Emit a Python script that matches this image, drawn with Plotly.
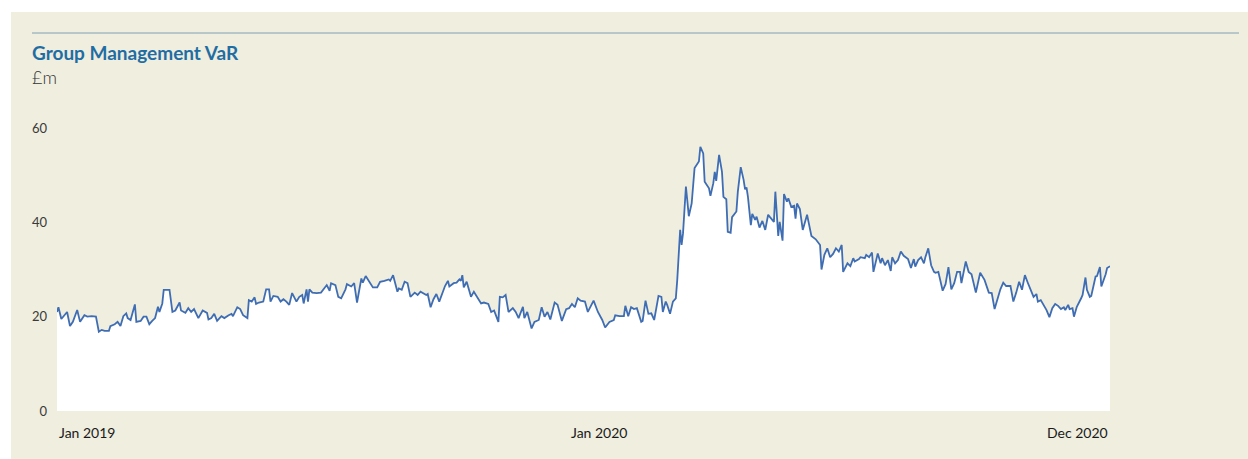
import pandas as pd
import plotly.graph_objects as go

# Observation day (days since 1 Jan 2019) and Group Management VaR in £m
obs_day = [
    0, 1, 3, 5, 7, 9, 11, 14, 16, 19, 21, 24, 27, 29, 31, 33, 36, 37, 40, 42,
    44, 46, 48, 49, 51, 54, 55, 58, 60, 62, 64, 66, 68, 70, 71, 73, 74, 78, 80, 82,
    85, 86, 89, 91, 93, 95, 98, 101, 104, 105, 107, 109, 111, 114, 116, 119, 121, 122, 125, 127,
    129, 132, 133, 135, 137, 138, 140, 143, 145, 147, 148, 150, 153, 155, 157, 159, 161, 163, 166, 168,
    170, 171, 173, 174, 175, 177, 180, 183, 185, 187, 189, 190, 193, 195, 197, 200, 201, 204, 206, 208,
    211, 212, 214, 216, 219, 222, 224, 227, 230, 231, 233, 236, 237, 239, 241, 243, 245, 248, 250, 252,
    254, 256, 257, 259, 261, 263, 265, 267, 269, 271, 272, 275, 277, 279, 280, 281, 282, 284, 286, 287,
    289, 292, 294, 296, 299, 301, 303, 306, 307, 309, 311, 313, 316, 318, 320, 323, 324, 326, 329, 331,
    334, 336, 338, 340, 342, 345, 347, 350, 353, 355, 357, 359, 361, 363, 366, 368, 372, 375, 378, 380,
    383, 386, 387, 390, 393, 394, 396, 398, 400, 402, 405, 406, 408, 410, 412, 414, 417, 419, 420, 422,
    423, 425, 427, 429, 430, 432, 433, 434, 436, 438, 440, 442, 445, 446, 448, 449, 452, 453, 455, 456,
    457, 459, 461, 462, 464, 465, 467, 468, 471, 472, 474, 476, 477, 478, 479, 481, 482, 484, 485, 487,
    489, 491, 493, 494, 497, 498, 500, 501, 503, 504, 506, 507, 509, 511, 512, 513, 515, 517, 520, 521,
    523, 526, 529, 530, 532, 534, 536, 538, 540, 542, 544, 545, 548, 550, 552, 553, 556, 557, 560, 561,
    563, 565, 566, 569, 571, 572, 574, 576, 578, 579, 581, 583, 585, 587, 590, 592, 594, 595, 597, 599,
    601, 602, 604, 606, 608, 609, 611, 614, 616, 618, 620, 622, 624, 626, 627, 630, 632, 634, 637, 640,
    642, 643, 646, 648, 650, 653, 654, 656, 658, 661, 663, 665, 667, 669, 671, 673, 675, 677, 679, 680,
    682, 684, 686, 688, 690, 692, 694, 696, 698, 699, 701, 702, 704, 705, 707, 710, 711, 713, 714, 716,
    717, 720, 721, 723, 724, 727, 728, 730,
]

var_gbp_m = [
    21.0, 22.0, 19.5, 20.3, 21.0, 18.0, 18.9, 21.4, 18.9, 20.3, 20.0, 20.1, 20.0, 16.8, 17.2, 17.0, 17.0, 18.0, 18.4, 18.9,
    18.0, 20.1, 20.7, 19.7, 19.3, 22.6, 18.9, 19.1, 20.0, 20.0, 18.4, 19.1, 19.7, 22.1, 21.0, 22.8, 25.7, 25.7, 21.0, 21.3,
    23.0, 21.3, 20.8, 21.8, 21.0, 21.6, 19.7, 21.3, 20.8, 19.4, 19.7, 20.6, 19.1, 20.1, 19.7, 20.3, 20.6, 20.1, 22.0, 21.6,
    20.3, 19.7, 23.5, 23.2, 24.1, 22.7, 23.0, 23.2, 25.8, 25.8, 23.2, 24.4, 24.2, 23.2, 23.7, 23.2, 22.5, 25.0, 23.2, 24.2,
    24.6, 22.8, 25.8, 23.2, 25.8, 25.1, 25.0, 25.1, 25.8, 26.7, 25.5, 27.1, 26.7, 24.2, 23.9, 25.8, 26.9, 26.4, 27.1, 23.0,
    28.1, 27.2, 28.6, 27.6, 26.2, 26.2, 27.4, 27.6, 27.9, 27.6, 28.8, 25.3, 26.0, 25.7, 27.4, 27.1, 24.2, 25.1, 24.6, 25.3,
    25.0, 24.6, 24.8, 22.0, 23.7, 24.8, 23.2, 25.0, 26.5, 27.6, 26.4, 27.1, 27.2, 27.9, 27.6, 28.8, 26.2, 27.4, 25.0, 24.2,
    25.3, 23.7, 22.8, 23.0, 22.7, 21.0, 21.3, 18.9, 24.2, 24.1, 24.6, 21.0, 21.8, 21.0, 19.7, 22.1, 19.7, 21.0, 17.5, 18.9,
    19.3, 22.0, 20.0, 21.0, 19.4, 23.0, 22.5, 19.1, 21.6, 21.8, 22.7, 22.0, 23.9, 23.4, 23.2, 21.0, 23.4, 21.0, 19.3, 17.7,
    18.9, 19.3, 20.3, 20.1, 20.1, 22.3, 20.1, 22.0, 21.6, 21.8, 18.9, 19.1, 23.4, 20.6, 20.7, 19.3, 24.4, 24.2, 21.0, 23.2,
    22.5, 20.6, 23.2, 23.9, 27.8, 38.4, 35.2, 37.7, 47.6, 41.3, 44.0, 51.5, 52.9, 56.0, 54.6, 48.6, 47.2, 45.6, 48.3, 50.7,
    48.8, 54.3, 50.7, 45.4, 44.9, 38.0, 37.8, 41.1, 42.3, 46.5, 51.7, 49.0, 47.0, 47.4, 45.4, 39.4, 41.8, 40.5, 41.2, 38.9,
    40.3, 38.4, 41.6, 41.2, 40.1, 46.5, 37.1, 40.1, 36.1, 46.0, 44.4, 45.1, 43.3, 43.5, 40.8, 44.0, 42.8, 38.4, 41.6, 40.1,
    37.1, 36.4, 35.2, 30.0, 33.1, 34.5, 32.6, 33.3, 34.5, 33.8, 35.2, 29.5, 31.3, 30.7, 32.4, 31.7, 32.2, 32.6, 32.4, 33.1,
    32.6, 33.6, 29.5, 33.4, 31.3, 32.4, 30.9, 32.0, 29.7, 32.6, 31.3, 32.0, 33.8, 32.9, 32.2, 30.3, 32.2, 30.6, 32.0, 32.6,
    31.3, 32.6, 34.5, 30.9, 29.5, 29.3, 29.5, 25.5, 26.9, 30.5, 25.8, 27.1, 29.5, 29.5, 27.1, 31.7, 29.5, 29.0, 25.1, 29.3,
    28.1, 27.8, 25.1, 25.0, 21.6, 25.0, 25.8, 27.2, 26.5, 26.5, 23.2, 25.1, 27.4, 25.7, 28.8, 27.2, 25.8, 24.2, 24.8, 23.2,
    23.5, 22.5, 21.4, 19.9, 21.8, 22.7, 22.3, 21.6, 22.0, 21.4, 22.5, 21.6, 21.8, 20.0, 22.1, 23.9, 24.6, 28.3, 25.7, 24.2,
    24.4, 28.5, 28.6, 30.5, 26.4, 29.0, 30.3, 30.7,
]

y_ticks = [0, 20, 40, 60]
x_labels = ["Jan 2019", "Jan 2020", "Dec 2020"]
x_label_dates = ["2019-01-01", "2020-01-12", "2020-12-31"]
x_label_anchor = ["left", "center", "right"]

START = pd.Timestamp("2019-01-01")
dates = START + pd.to_timedelta(obs_day, unit="D")

BEIGE = "#EFEEDF"
LINE_BLUE = "#3F6DB3"
TITLE_BLUE = "#1F6DA3"
FONT = "Lato"

W, H = 1248, 459
L, R, T, B = 57, 138, 128, 48
plot_w = W - L - R
plot_h = H - T - B


def px_x(px):
    return (px - L) / plot_w


def px_y(py):
    return (H - B - py) / plot_h


fig = go.Figure()
fig.add_trace(go.Scatter(
    x=dates, y=var_gbp_m, mode="lines",
    line=dict(color=LINE_BLUE, width=1.8),
    fill="tozeroy", fillcolor="white",
    hoverinfo="skip", showlegend=False,
))

shapes = [
    # panel background
    dict(type="rect", xref="paper", yref="paper",
         x0=px_x(11), x1=px_x(W + 5), y0=px_y(H + 5), y1=px_y(12),
         fillcolor=BEIGE, line=dict(width=0), layer="below"),
    # rule above the title
    dict(type="line", xref="paper", yref="paper",
         x0=px_x(32), x1=px_x(1239), y0=px_y(33), y1=px_y(33),
         line=dict(color="#7FA0B4", width=1), layer="below"),
]

annotations = [
    dict(text="<b>Group Management VaR</b>", xref="paper", yref="paper",
         x=px_x(30), y=px_y(53), xanchor="left", yanchor="middle",
         showarrow=False, font=dict(family=FONT, size=19, color=TITLE_BLUE)),
    dict(text="£m", xref="paper", yref="paper",
         x=px_x(30), y=px_y(77), xanchor="left", yanchor="middle",
         showarrow=False, font=dict(family=FONT, size=18, color="#333333", weight=300)),
]
for lab, d, anc in zip(x_labels, x_label_dates, x_label_anchor):
    annotations.append(dict(
        text=lab, x=d, xref="x", yref="paper", y=px_y(432.5),
        xanchor=anc, yanchor="middle", showarrow=False,
        font=dict(family=FONT, size=14, color="#1A1A1A"),
    ))

fig.update_layout(
    width=W, height=H,
    margin=dict(l=L, r=R, t=T, b=B, pad=0),
    paper_bgcolor="white",
    plot_bgcolor="rgba(0,0,0,0)",
    shapes=shapes,
    annotations=annotations,
    xaxis=dict(range=[START, START + pd.Timedelta(days=730)],
               showgrid=False, zeroline=False, showline=False,
               showticklabels=False, ticks=""),
    yaxis=dict(range=[0, 60], tickvals=y_ticks,
               showgrid=False, zeroline=False, showline=False, ticks="",
               ticklabelstandoff=9,
               tickfont=dict(family=FONT, size=13, color="#3A3A3A")),
)

fig.write_html("out.html")
